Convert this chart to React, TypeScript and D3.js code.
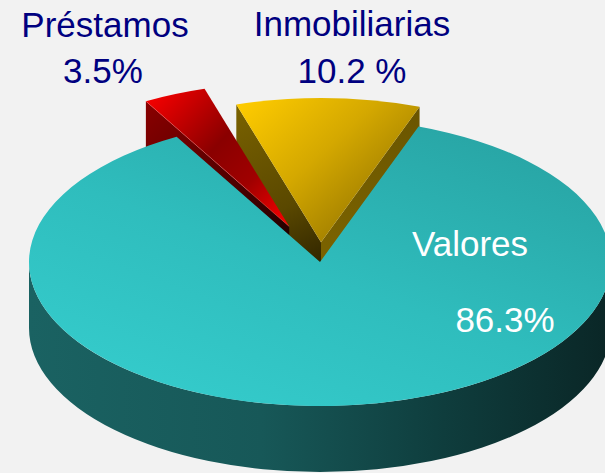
import React from "react";
import * as d3 from "d3";

const categories = ["Valores", "Préstamos", "Inmobiliarias"];
const values = [86.3, 3.5, 10.2];
const valueLabels = ["86.3%", "3.5%", "10.2 %"];
const explode = [0, 78, 40];

const W = 605;
const H = 473;
const cx = 320;
const cy = 262;
const rx = 291;
const ry = 144;
const depth = 66;
const startDeg = 19.8;

type P = [number, number];

function rim(a: number, off: P = [0, 0], dy = 0): P {
  return [cx + rx * Math.sin(a) + off[0], cy - ry * Math.cos(a) + off[1] + dy];
}

function topPath(a0: number, a1: number, off: P): string {
  const t: P = [cx + off[0], cy + off[1]];
  const p0 = rim(a0, off);
  const p1 = rim(a1, off);
  const large = a1 - a0 > Math.PI ? 1 : 0;
  return `M${t[0]},${t[1]}L${p0[0]},${p0[1]}A${rx},${ry} 0 ${large} 1 ${p1[0]},${p1[1]}Z`;
}

function facePath(a: number, off: P): string {
  const t: P = [cx + off[0], cy + off[1]];
  const p = rim(a, off);
  return `M${t[0]},${t[1]}L${p[0]},${p[1]}L${p[0]},${p[1] + depth}L${t[0]},${t[1] + depth}Z`;
}

function sidePath(a0: number, a1: number): string {
  const p0 = rim(a0);
  const p1 = rim(a1);
  const q0 = rim(a0, [0, 0], depth);
  const q1 = rim(a1, [0, 0], depth);
  return `M${p0[0]},${p0[1]}A${rx},${ry} 0 0 1 ${p1[0]},${p1[1]}L${q1[0]},${q1[1]}A${rx},${ry} 0 0 0 ${q0[0]},${q0[1]}Z`;
}

export default function App() {
  const s = (startDeg * Math.PI) / 180;
  const pie = d3
    .pie<number>()
    .sort(null)
    .value((d) => d)
    .startAngle(s)
    .endAngle(s + 2 * Math.PI);
  const arcs = pie(values);

  const offs: P[] = arcs.map((a, i) => {
    const m = (a.startAngle + a.endAngle) / 2;
    return [explode[i] * Math.sin(m), -explode[i] * Math.cos(m) * (ry / rx)];
  });

  const [valA, preA, inmA] = arcs;
  const preOff = offs[1];
  const inmOff = offs[2];

  const preTip: P = [cx + preOff[0], cy + preOff[1]];
  const preRim0 = rim(preA.startAngle, preOff);
  const inmTip: P = [cx + inmOff[0], cy + inmOff[1]];
  const inmRim0 = rim(inmA.startAngle, inmOff);
  const inmRim1 = rim(inmA.endAngle, inmOff);

  const font = "'Liberation Sans', Arial, sans-serif";
  const navy = "#000080";

  return (
    <svg
      width={W}
      height={H}
      style={{ position: "absolute", left: 0, top: 0, background: "#F2F2F2" }}
    >
      <defs>
        <linearGradient id="tealTop" x1="0.25" y1="0.95" x2="0.9" y2="0.1">
          <stop offset="0" stopColor="#34CACA" />
          <stop offset="0.45" stopColor="#2FBDBD" />
          <stop offset="1" stopColor="#28A5A5" />
        </linearGradient>
        <linearGradient id="tealSide" x1="0" y1="0" x2="1" y2="0">
          <stop offset="0" stopColor="#1A6262" />
          <stop offset="0.4" stopColor="#175858" />
          <stop offset="0.7" stopColor="#0F3E3E" />
          <stop offset="1" stopColor="#0A2626" />
        </linearGradient>
        <linearGradient
          id="redTop"
          gradientUnits="userSpaceOnUse"
          x1={preRim0[0]}
          y1={preRim0[1] - 10}
          x2={preTip[0]}
          y2={preTip[1]}
        >
          <stop offset="0" stopColor="#FF0000" />
          <stop offset="0.45" stopColor="#8A0000" />
          <stop offset="0.7" stopColor="#A00000" />
          <stop offset="1" stopColor="#FF0000" />
        </linearGradient>
        <linearGradient
          id="redFace"
          gradientUnits="userSpaceOnUse"
          x1={preRim0[0]}
          y1={preRim0[1]}
          x2={preTip[0]}
          y2={preTip[1] + depth / 2}
        >
          <stop offset="0" stopColor="#8A0000" />
          <stop offset="0.6" stopColor="#4A0000" />
          <stop offset="1" stopColor="#150000" />
        </linearGradient>
        <linearGradient
          id="yelTop"
          gradientUnits="userSpaceOnUse"
          x1={inmRim0[0]}
          y1={inmRim0[1]}
          x2={inmTip[0] + 40}
          y2={inmTip[1]}
        >
          <stop offset="0" stopColor="#FFCC00" />
          <stop offset="0.5" stopColor="#D4A800" />
          <stop offset="1" stopColor="#977700" />
        </linearGradient>
        <linearGradient
          id="yelFaceL"
          gradientUnits="userSpaceOnUse"
          x1={inmRim0[0]}
          y1={inmRim0[1]}
          x2={inmTip[0]}
          y2={inmTip[1] + depth / 2}
        >
          <stop offset="0" stopColor="#7A6200" />
          <stop offset="0.6" stopColor="#5A4800" />
          <stop offset="1" stopColor="#2A2000" />
        </linearGradient>
        <linearGradient
          id="yelFaceR"
          gradientUnits="userSpaceOnUse"
          x1={inmRim1[0]}
          y1={inmRim1[1]}
          x2={inmTip[0]}
          y2={inmTip[1]}
        >
          <stop offset="0" stopColor="#6A5500" />
          <stop offset="1" stopColor="#7A6200" />
        </linearGradient>
      </defs>

      {/* Inmobiliarias (exploded, back) */}
      <path d={facePath(inmA.startAngle, inmOff)} fill="url(#yelFaceL)" />
      <path d={facePath(inmA.endAngle, inmOff)} fill="url(#yelFaceR)" />
      <path d={topPath(inmA.startAngle, inmA.endAngle, inmOff)} fill="url(#yelTop)" />

      {/* Préstamos (exploded, back) */}
      <path d={facePath(preA.startAngle, preOff)} fill="url(#redFace)" />
      <path d={topPath(preA.startAngle, preA.endAngle, preOff)} fill="url(#redTop)" />
      <line
        x1={preRim0[0]}
        y1={preRim0[1]}
        x2={preTip[0]}
        y2={preTip[1]}
        stroke="#FF7070"
        strokeOpacity={0.5}
        strokeWidth={0.8}
      />

      {/* Valores */}
      <path d={sidePath(Math.PI / 2, (3 * Math.PI) / 2)} fill="url(#tealSide)" />
      <path d={topPath(valA.startAngle, valA.endAngle, [0, 0])} fill="url(#tealTop)" />

      {/* Labels */}
      <g fontFamily={font} fontSize={35}>
        <text x={105} y={37} textAnchor="middle" fill={navy}>
          {categories[1]}
        </text>
        <text x={103} y={83} textAnchor="middle" fill={navy}>
          {valueLabels[1]}
        </text>
        <text x={352} y={36} textAnchor="middle" fill={navy}>
          {categories[2]}
        </text>
        <text x={352} y={83} textAnchor="middle" fill={navy}>
          {valueLabels[2]}
        </text>
        <text x={470} y={256} textAnchor="middle" fill="#FFFFFF">
          {categories[0]}
        </text>
        <text x={505} y={332} textAnchor="middle" fill="#FFFFFF">
          {valueLabels[0]}
        </text>
      </g>
    </svg>
  );
}
